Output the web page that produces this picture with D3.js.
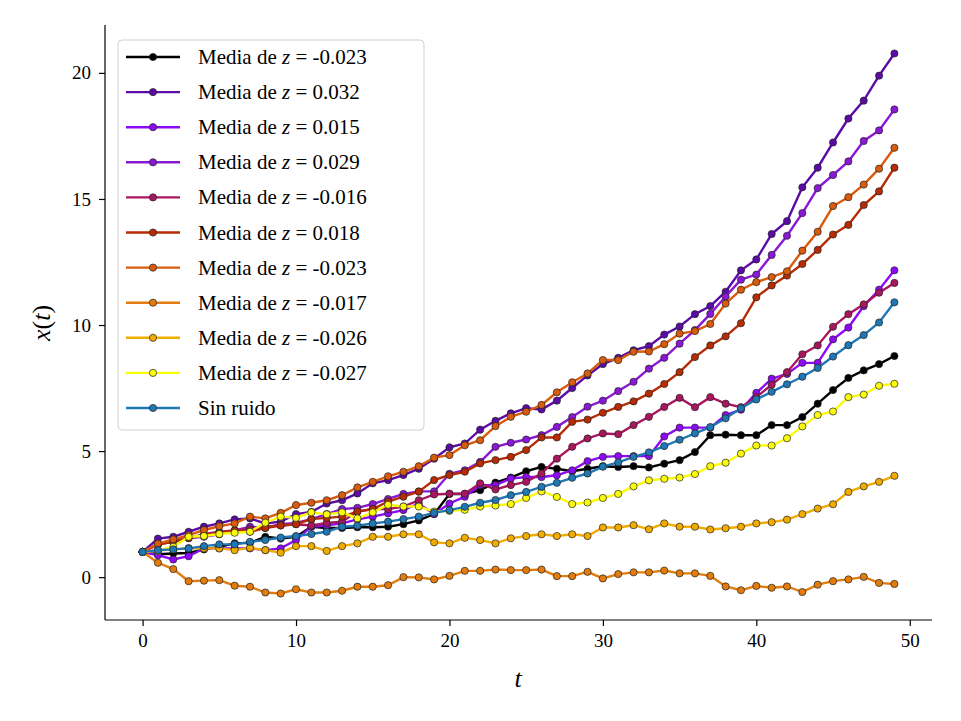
<!DOCTYPE html>
<html>
<head>
<meta charset="utf-8">
<script src="https://cdn.jsdelivr.net/npm/d3@7"></script>
<style>
  body { margin: 0; background: #fff; }
  text { font-family: "Liberation Serif", "DejaVu Serif", serif; }
</style>
</head>
<body>
<svg id="chart" width="961" height="721"></svg>
<script>
// Data

var times = d3.range(0, 50);

var serBlack = [1,0.91,0.94,0.96,1.1,1.2,1.34,1.36,1.6,1.53,1.6,2.0,1.95,1.95,1.98,1.98,2.0,2.1,2.25,2.5,3.3,3.3,3.45,3.75,3.95,4.2,4.37,4.3,4.2,4.3,4.4,4.37,4.4,4.35,4.5,4.64,4.96,5.63,5.65,5.63,5.63,6.03,6.03,6.35,6.88,7.42,7.9,8.2,8.45,8.77];
var serIndigo = [1,1.53,1.6,1.8,2.0,2.13,2.29,2.33,2.13,2.2,2.5,2.59,2.92,3.05,3.32,3.72,3.85,4.05,4.3,4.7,5.15,5.3,5.85,6.2,6.5,6.7,6.65,7.0,7.5,8.0,8.45,8.7,9.0,9.16,9.62,9.94,10.43,10.75,11.32,12.17,12.6,13.61,14.12,15.46,16.24,17.24,18.19,18.9,19.89,20.77];
var serViolet1 = [1,0.87,0.7,0.83,1.14,1.14,1.14,1.14,1.07,1.14,1.47,2.0,2.06,2.13,2.29,2.4,2.53,2.66,2.92,2.5,2.92,3.19,3.65,3.65,3.91,3.97,3.97,4.04,4.24,4.6,4.77,4.8,4.8,4.8,5.58,5.93,5.93,5.93,6.43,6.64,7.31,7.87,8.06,8.5,8.5,9.43,9.9,10.75,11.4,12.17];
var serViolet2 = [1,1.3,1.45,1.55,1.6,1.7,1.85,2.0,1.95,2.1,2.15,2.3,2.5,2.7,2.75,2.9,3.1,3.3,3.4,3.4,4.1,4.24,4.57,5.17,5.33,5.46,5.63,5.96,6.35,6.76,7.0,7.38,7.75,8.27,8.7,9.26,9.8,10.44,11.13,11.8,12.0,12.78,13.54,14.44,15.43,15.95,16.49,17.3,17.72,18.55];
var serCrimson = [1,1.3,1.4,1.55,1.7,1.8,1.85,1.9,2.0,2.05,2.1,2.05,2.15,2.2,2.6,2.7,2.7,2.8,3.05,3.28,3.31,3.31,3.72,3.48,3.65,3.78,4.11,4.7,5.17,5.5,5.7,5.67,6.03,6.36,6.75,7.11,6.74,7.14,6.88,6.74,7.14,7.63,8.13,8.84,9.19,9.93,10.43,10.82,11.28,11.67];
var serBrown = [1,1.3,1.4,1.55,1.65,1.75,1.85,1.8,1.95,2.05,2.1,2.3,2.35,2.4,2.6,2.7,3.0,3.19,3.39,3.85,4.05,4.18,4.51,4.64,4.77,5.04,5.54,5.54,6.16,6.25,6.52,6.75,6.97,7.28,7.66,8.13,8.73,9.19,9.55,10.07,11.1,11.57,11.96,12.42,12.98,13.59,13.97,14.76,15.3,16.24];
var serOrange = [1,1.33,1.5,1.67,1.87,2.02,2.13,2.4,2.33,2.55,2.86,2.95,3.05,3.25,3.56,3.78,4.0,4.18,4.4,4.74,4.84,5.23,5.43,5.99,6.36,6.56,6.83,7.33,7.73,8.08,8.61,8.61,8.94,8.95,9.24,9.66,9.76,10.04,10.85,11.4,11.7,11.9,12.13,12.95,13.7,14.72,15.07,15.57,16.2,17.03];
var serAmber = [1,0.57,0.32,-0.16,-0.14,-0.12,-0.34,-0.38,-0.61,-0.65,-0.48,-0.61,-0.61,-0.54,-0.38,-0.38,-0.32,0.0,-0.01,-0.09,0.05,0.25,0.25,0.3,0.28,0.28,0.3,0.04,0.04,0.21,-0.05,0.12,0.19,0.19,0.26,0.15,0.15,0.05,-0.37,-0.52,-0.35,-0.42,-0.37,-0.59,-0.3,-0.16,-0.09,0.01,-0.23,-0.27];
var serGold = [1,1.05,1.1,1.15,1.14,1.14,1.07,1.16,1.07,0.97,1.23,1.23,1.04,1.23,1.34,1.6,1.6,1.7,1.7,1.38,1.34,1.56,1.47,1.34,1.54,1.63,1.7,1.63,1.7,1.63,1.97,1.97,2.06,1.9,2.13,2.0,2.0,1.89,1.94,2.0,2.13,2.18,2.28,2.5,2.72,2.89,3.38,3.6,3.78,4.02];
var serYellow = [1,1.05,1.2,1.6,1.63,1.71,1.76,1.8,2.16,2.4,2.35,2.57,2.49,2.57,2.33,2.57,2.87,2.8,2.8,2.6,2.63,2.67,2.8,2.84,2.9,3.14,3.4,3.18,2.9,2.96,3.14,3.3,3.6,3.84,3.9,3.95,4.09,4.4,4.54,4.9,5.22,5.22,5.51,5.98,6.43,6.57,7.14,7.24,7.59,7.67];
var serBlue = [1,1.07,1.1,1.14,1.23,1.3,1.3,1.4,1.47,1.57,1.63,1.71,1.8,2.0,2.04,2.13,2.2,2.3,2.4,2.55,2.66,2.79,2.95,3.06,3.25,3.38,3.58,3.74,3.94,4.11,4.38,4.55,4.77,4.95,5.2,5.45,5.7,5.95,6.3,6.7,7.05,7.35,7.65,7.95,8.3,8.75,9.2,9.6,10.1,10.9];

var seriesValues = [serBlack, serIndigo, serViolet1, serViolet2, serCrimson, serBrown, serOrange, serAmber, serGold, serYellow, serBlue];
var zValues = ["-0.023", "0.032", "0.015", "0.029", "-0.016", "0.018", "-0.023", "-0.017", "-0.026", "-0.027", null];
var colors = ["#000000", "#5b0ba6", "#8e0af5", "#8a18d4", "#a8175e", "#b52c05", "#d95b0c", "#e27c0c", "#f2ac00", "#fbfb0a", "#1f77b4"];

var xTicks = [0, 10, 20, 30, 40, 50];
var yTicks = [0, 5, 10, 15, 20];

// Layout

var svg = d3.select("#chart");
var plotLeft = 105, plotRight = 932, plotTop = 25, plotBottom = 620;

var x = d3.scaleLinear().domain([-2.45, 51.45]).range([plotLeft, plotRight]);
var y = d3.scaleLinear().domain([-1.7, 21.9]).range([plotBottom, plotTop]);

var xAxis = svg.append("g").attr("transform", "translate(0," + plotBottom + ")")
  .call(d3.axisBottom(x).tickValues(xTicks).tickSize(6).tickPadding(8));
var yAxis = svg.append("g").attr("transform", "translate(" + plotLeft + ",0)")
  .call(d3.axisLeft(y).tickValues(yTicks).tickSize(6).tickPadding(8));

[xAxis, yAxis].forEach(function(a){
  a.selectAll("text").style("font-size", "19px").attr("fill", "#000");
  a.select(".domain").attr("stroke-width", 1.2);
  a.selectAll(".tick line").attr("stroke-width", 1.2);
});
// plain spines without the end caps
xAxis.select(".domain").attr("d", "M" + plotLeft + ",0H" + plotRight);
yAxis.select(".domain").attr("d", "M0," + plotBottom + "V" + plotTop);

svg.append("text").attr("x", 518).attr("y", 687).attr("text-anchor", "middle")
  .style("font-size", "26px").style("font-style", "italic").text("t");
svg.append("text").attr("transform", "translate(50,323) rotate(-90)").attr("text-anchor", "middle")
  .style("font-size", "26px").html('<tspan font-style="italic">x</tspan>(<tspan font-style="italic">t</tspan>)');

// Series

var line = d3.line().x(function(d, i){ return x(times[i]); }).y(function(d){ return y(d); });

seriesValues.forEach(function(vals, k){
  var g = svg.append("g");
  g.append("path").datum(vals).attr("d", line)
    .attr("fill", "none").attr("stroke", colors[k]).attr("stroke-width", 2.4);
  g.selectAll("circle").data(vals).enter().append("circle")
    .attr("cx", function(d, i){ return x(times[i]); })
    .attr("cy", function(d){ return y(d); })
    .attr("r", 3.6)
    .attr("fill", colors[k]).attr("stroke", "#222").attr("stroke-width", 0.7);
});

// Legend

var legend = svg.append("g");
legend.append("rect").attr("x", 118).attr("y", 40).attr("width", 306).attr("height", 390)
  .attr("rx", 4).attr("fill", "#fff").attr("fill-opacity", 0.85)
  .attr("stroke", "#d0d0d0").attr("stroke-width", 1);

zValues.forEach(function(z, k){
  var ly = 57 + k * 35.1;
  legend.append("line").attr("x1", 126).attr("x2", 180).attr("y1", ly).attr("y2", ly)
    .attr("stroke", colors[k]).attr("stroke-width", 2.4);
  legend.append("circle").attr("cx", 153).attr("cy", ly).attr("r", 3.6)
    .attr("fill", colors[k]).attr("stroke", "#222").attr("stroke-width", 0.7);
  var t = legend.append("text").attr("x", 198).attr("y", ly + 7).style("font-size", "21px");
  if (z === null) {
    t.text("Sin ruido");
  } else {
    t.html('Media de <tspan font-style="italic">z</tspan> = ' + z);
  }
});
</script>
</body>
</html>
